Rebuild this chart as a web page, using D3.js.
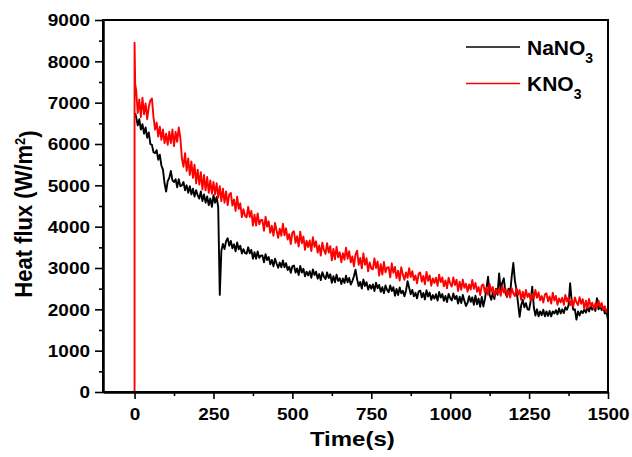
<!DOCTYPE html>
<html>
<head>
<meta charset="utf-8">
<script src="https://cdn.jsdelivr.net/npm/d3@7"></script>
<style>
  body { margin: 0; background: #fff; }
  svg text { font-family: "Liberation Sans", Arial, sans-serif; font-weight: bold; fill: #000; }
</style>
</head>
<body>
<div class="chart"></div>
<script>
// axis ticks
var xTicks = [0, 250, 500, 750, 1000, 1250, 1500];
var xMinor = [125, 375, 625, 875, 1125, 1375];
var yTicks = [0, 1000, 2000, 3000, 4000, 5000, 6000, 7000, 8000, 9000];
var yMinor = [500, 1500, 2500, 3500, 4500, 5500, 6500, 7500, 8500];

// series names
var seriesNames = ["NaNO", "KNO"];

// sampling of the traces (s)
var firstSample = 5;
var sampleStep = 5;

// start of each trace, [time, flux]
var nano3Onset = [[2, 6750]];
var kno3Onset = [[0, 0], [0, 8450], [2, 7450]];

// NaNO3 heat flux (W/m2), t = 5 .. 1500
var nano3Values = [
  6650, 6450, 6600, 6350, 6480, 6250, 6400, 6150, 6280, 6000,
  5980, 5800, 5780, 5850, 5620, 5740, 5480, 5380, 5050, 4850,
  5100, 5180, 5350, 5120, 5080, 5150, 4950, 5150, 4980, 5000,
  5080, 4880, 5000, 4820, 4980, 4780, 4920, 4730, 4880, 4760,
  4680, 4850, 4620, 4780, 4580, 4730, 4520, 4680, 4480, 4760,
  4580, 4720, 4480, 2350, 3420, 3580, 3460, 3650, 3720, 3540,
  3654, 3478, 3572, 3406, 3620, 3454, 3538, 3352, 3456, 3360,
  3345, 3500, 3355, 3440, 3225, 3380, 3225, 3400, 3245, 3300,
  3305, 3140, 3335, 3190, 3265, 3090, 3195, 3040, 3225, 3110,
  3006, 3132, 3018, 3184, 3020, 3116, 2952, 3028, 2884, 3040,
  3060, 2890, 2990, 2830, 3050, 2890, 2980, 2800, 2910, 2820,
  2922, 2764, 2966, 2828, 2910, 2742, 2854, 2706, 2898, 2790,
  2732, 2894, 2756, 2848, 2640, 2802, 2654, 2836, 2688, 2750,
  2613, 2746, 2639, 2812, 2655, 2758, 2601, 2684, 2800, 2960,
  2731, 2562, 2663, 2504, 2725, 2566, 2657, 2478, 2589, 2500,
  2602, 2444, 2646, 2508, 2590, 2422, 2534, 2386, 2578, 2470,
  2414, 2578, 2442, 2536, 2330, 2494, 2348, 2532, 2386, 2450,
  2315, 2450, 2680, 2520, 2365, 2470, 2315, 2400, 2265, 2430,
  2455, 2290, 2395, 2240, 2465, 2310, 2405, 2230, 2345, 2260,
  2366, 2212, 2418, 2284, 2370, 2206, 2322, 2178, 2374, 2270,
  2216, 2382, 2248, 2324, 2140, 2306, 2152, 2348, 2204, 2080,
  2160, 2320, 2180, 2290, 2110, 2330, 2120, 2260, 2060, 2300,
  2070, 2250, 2500, 2790, 2350, 2230, 2400, 2250, 2500, 2350,
  2870, 2450, 2650, 2750, 2400, 2300, 2500, 2390, 2800, 3120,
  2700, 2470, 2150, 1820, 2100, 2230, 2050, 2150, 2000, 1990,
  2200, 2550, 2050, 1850, 2000, 1830, 1950, 1860, 1990, 1830,
  1950, 1840, 1960, 1830, 1950, 1900, 1980, 1880, 2020, 1900,
  2000, 1910, 2050, 1990, 2100, 2630, 2200, 1990, 2000, 1750,
  1950, 1850, 1960, 1910, 2000, 1920, 2050, 1950, 2080, 1990,
  2050, 1960, 2270, 2000, 2080, 1980, 2050, 1900, 1950, 1740
];

// KNO3 heat flux (W/m2), t = 5 .. 1500
var kno3Values = [
  7300, 6750, 7080, 6650, 7120, 6720, 6980, 6600, 6900, 7050,
  7100, 6650, 6350, 6520, 6180, 6420, 6100, 6350, 6020, 6250,
  5980, 6300, 6020, 6350, 5950, 6300, 6050, 6400, 6150, 5650,
  5450, 5780, 5350, 5650, 5250, 5580, 5180, 5500, 5050, 5380,
  5020, 5320, 4900, 5250, 4880, 5200, 4820, 5120, 4800, 5080,
  4780, 5050, 4700, 4980, 4620, 4920, 4580, 4850, 4520, 4780,
  4815, 4510, 4655, 4380, 4725, 4430, 4565, 4230, 4425, 4260,
  4225, 4480, 4235, 4380, 4025, 4290, 4025, 4320, 4055, 4160,
  4160, 3900, 4240, 4000, 4130, 3850, 4020, 3780, 4090, 3900,
  3730, 3950, 3780, 4070, 3790, 3960, 3690, 3820, 3580, 3860,
  3890, 3610, 3770, 3520, 3880, 3600, 3760, 3440, 3660, 3510,
  3665, 3410, 3745, 3510, 3645, 3370, 3545, 3300, 3615, 3430,
  3340, 3600, 3370, 3530, 3185, 3460, 3210, 3515, 3260, 3380,
  3140, 3360, 3200, 3490, 3225, 3405, 3135, 3280, 3040, 3330,
  3420, 3080, 3245, 2990, 3355, 3080, 3235, 2920, 3135, 2990,
  2967, 3234, 3001, 3158, 2815, 3092, 2839, 3146, 2893, 3010,
  3021, 2772, 3113, 2884, 3025, 2756, 2937, 2698, 3019, 2840,
  2716, 2892, 2764, 2996, 2780, 2924, 2708, 2820, 2628, 2860,
  2893, 2670, 2807, 2608, 2905, 2690, 2819, 2572, 2749, 2638,
  2767, 2568, 2841, 2658, 2771, 2556, 2701, 2510, 2767, 2624,
  2553, 2770, 2587, 2716, 2445, 2670, 2471, 2720, 2521, 2618,
  2427, 2604, 2477, 2710, 2495, 2640, 2425, 2538, 2347, 2580,
  2600, 2406, 2527, 2354, 2615, 2428, 2542, 2327, 2483, 2387,
  2501, 2328, 2568, 2409, 2509, 2322, 2450, 2284, 2510, 2386,
  2324, 2514, 2354, 2467, 2230, 2427, 2253, 2471, 2297, 2382,
  2216, 2372, 2262, 2467, 2280, 2408, 2221, 2321, 2165, 2360,
  2389, 2194, 2314, 2140, 2400, 2212, 2325, 2109, 2264, 2167,
  2281, 2108, 2348, 2189, 2289, 2102, 2230, 2064, 2290, 2166,
  2104, 2294, 2134, 2247, 2010, 2207, 2033, 2251, 2077, 2162,
  2010, 2140, 2042, 2214, 2050, 2156, 1992, 2074, 1928, 2010
];

// set the dimensions and margins of the graph
var margin = {top: 20, right: 24, bottom: 65, left: 103},
    width = 632 - margin.left - margin.right,
    height = 457 - margin.top - margin.bottom;

var svg = d3.select(".chart").append("svg")
    .attr("width", 632)
    .attr("height", 457)
  .append("g")
    .attr("transform", "translate(" + margin.left + "," + margin.top + ")");

var x = d3.scaleLinear().domain([-100, 1500]).range([0, width]);
var y = d3.scaleLinear().domain([0, 9000]).range([height, 0]);

// turn the value lists into [time, flux] pairs
function toPoints(onset, values) {
  var pts = onset.slice();
  values.forEach(function(v, i) { pts.push([firstSample + i * sampleStep, v]); });
  return pts;
}
var nano3 = toPoints(nano3Onset, nano3Values);
var kno3 = toPoints(kno3Onset, kno3Values);

var line = d3.line()
    .x(function(d) { return x(d[0]); })
    .y(function(d) { return y(d[1]); });

svg.append("path").datum(nano3)
    .attr("fill", "none").attr("stroke", "#000").attr("stroke-width", 1.9)
    .attr("stroke-linejoin", "round")
    .attr("d", line);

svg.append("path").datum(kno3)
    .attr("fill", "none").attr("stroke", "#ff0000").attr("stroke-width", 1.9)
    .attr("stroke-linejoin", "round")
    .attr("d", line);

// frame
svg.append("rect")
    .attr("width", width).attr("height", height)
    .attr("fill", "none").attr("stroke", "#000").attr("stroke-width", 2);

// X axis
var gx = svg.append("g")
    .attr("transform", "translate(0," + height + ")")
    .call(d3.axisBottom(x).tickValues(xTicks).tickSize(7).tickPadding(5)
      .tickSizeOuter(0).tickFormat(d3.format("d")));
svg.append("g")
    .attr("transform", "translate(0," + height + ")")
    .call(d3.axisBottom(x).tickValues(xMinor).tickSize(4).tickFormat("").tickSizeOuter(0));

// Y axis
var gy = svg.append("g")
    .call(d3.axisLeft(y).tickValues(yTicks).tickSize(8).tickPadding(5)
      .tickSizeOuter(0).tickFormat(d3.format("d")));
svg.append("g")
    .call(d3.axisLeft(y).tickValues(yMinor).tickSize(4).tickFormat("").tickSizeOuter(0));

svg.selectAll(".domain").attr("stroke-width", 2);
svg.selectAll(".tick line").attr("stroke-width", 1.6);

gx.selectAll("text")
    .attr("y", 0).attr("dy", 0)
    .attr("transform", "translate(0,28) scale(1.15,1)")
    .style("font-size", "16.5px");

gy.selectAll("text")
    .attr("x", 0).attr("dy", "0.36em")
    .attr("transform", "translate(-13,0) scale(1.15,1)")
    .style("font-size", "16.5px");

// text label for the x axis
svg.append("text")
    .attr("transform", "translate(" + (x(690)) + "," + (height + 54) + ") scale(1.2,1)")
    .style("text-anchor", "middle")
    .style("font-size", "20px")
    .text("Time(s)");

// text label for the y axis
var ylab = svg.append("text")
    .attr("transform", "translate(" + (32 - margin.left) + "," + (214 - margin.top) + ") rotate(-90) scale(1,1.1)")
    .style("text-anchor", "middle")
    .style("font-size", "22px");
ylab.append("tspan").text("Heat flux (W/m");
ylab.append("tspan").attr("dy", "-0.5em").style("font-size", "13px").text("2");
ylab.append("tspan").attr("dy", "0.5em").text(")");

// legend
var legendColors = ["#000", "#ff0000"];
var legend = svg.selectAll(".legend")
    .data(seriesNames)
    .enter().append("g")
    .attr("class", "legend")
    .attr("transform", function(d, i) { return "translate(" + (466 - margin.left) + "," + (47 + i * 36.5 - margin.top) + ")"; });

legend.append("line")
    .attr("x1", 0).attr("x2", 54)
    .attr("stroke", function(d, i) { return legendColors[i]; })
    .attr("stroke-width", 1.6);

var ltext = legend.append("text")
    .attr("x", 61).attr("dy", "0.36em")
    .style("font-size", "21px");
ltext.append("tspan").text(function(d) { return d; });
ltext.append("tspan").attr("dy", 8).style("font-size", "14px").text("3");
</script>
</body>
</html>
